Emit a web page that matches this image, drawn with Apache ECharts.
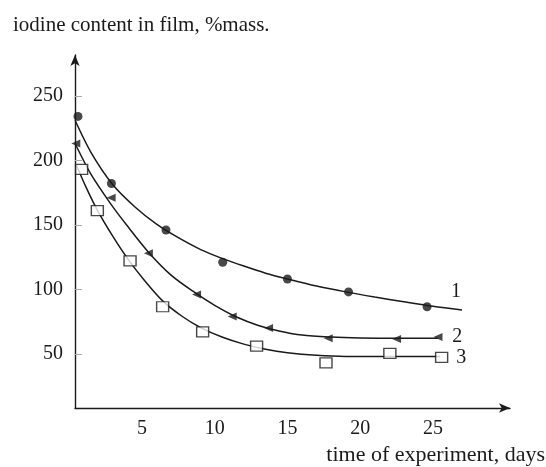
<!DOCTYPE html>
<html><head><meta charset="utf-8">
<script src="https://cdn.jsdelivr.net/npm/echarts@6/dist/echarts.min.js"></script>
<style>html,body{margin:0;padding:0;background:#fff}#c{width:546px;height:467px}</style>
</head><body><div id="c"></div>
<script>
// Tick labels
const yTicks = [50, 100, 150, 200, 250];
const xTicks = [5, 10, 15, 20, 25];
const curveNames = ['1', '2', '3'];

// Measured points [day, % mass]
const points1 = [[0.6,234],[2.9,182],[6.65,146],[10.55,121],[15,108],[19.2,98],[24.6,86.5]];
const points2 = [[0.45,213],[2.88,171],[5.44,128],[8.75,96],[11.2,79],[13.7,70],[17.8,62],[22.5,61.5],[25.35,63]];
const points3 = [[0.85,193],[1.93,161],[4.18,122],[6.42,86.5],[9.17,67],[12.88,56],[17.65,43],[22.04,50.4],[25.6,47.3]];

// Fitted curves
const fit1 = [[0.4,231],[1.5,206],[3,181],[4.5,164],[6,150.5],[7.5,140],[9,131],[10.5,124],[12,118],[13.5,112.5],[15,108],[17,102.5],[19,98],[21,94],[23,90.3],[25,86.8],[27,84]];
const fit2 = [[0.4,213],[1.5,189],[2.8,167],[4,149],[5.43,129],[7,111],[8.5,98.5],[10,87.5],[11.5,78.5],[13,72],[14.5,67.5],[16,64.5],[18,63],[20,62.3],[22.5,62],[25.36,62]];
const fit3 = [[0.5,196],[1.2,178],[1.9,162],[3,141],[4.06,123],[5.2,106.5],[6.42,91],[7.7,79.5],[9,70.5],[10.5,63],[12,57.5],[13.5,53.5],[15,50.8],[17,48.8],[19,48],[21,48],[23,48],[25.5,48]];

const serif = 'Liberation Serif';
const ink = '#1a1a1a';
const chart = echarts.init(document.getElementById('c'));

function fitSeries(data, name, offset) {
  return {
    type: 'line', data: data, smooth: 0.3, showSymbol: false, symbol: 'none',
    lineStyle: { color: ink, width: 1.5 }, silent: true, z: 2,
    endLabel: { show: true, formatter: name, offset: offset, color: ink,
      fontFamily: serif, fontSize: 20 }
  };
}

chart.setOption({
  animation: false,
  backgroundColor: '#fff',
  title: [
    { text: 'iodine content in film, %mass.', left: 8, top: 10,
      textStyle: { fontFamily: serif, fontSize: 21, fontWeight: 'normal', color: ink } },
    { text: 'time of experiment, days', right: -4, top: 439,
      textStyle: { fontFamily: serif, fontSize: 22, fontWeight: 'normal', color: ink } }
  ],
  grid: { left: 75, right: 36, top: 55, bottom: 59 },
  xAxis: {
    type: 'value', min: 0.395, max: 30.3,
    axisLine: { show: true, symbol: ['none', 'arrow'], symbolSize: [7, 11],
      lineStyle: { color: ink, width: 1.4 } },
    axisTick: { show: false },
    splitLine: { show: false },
    axisLabel: { customValues: xTicks, margin: 11, color: ink,
      fontFamily: serif, fontSize: 20 }
  },
  yAxis: {
    type: 'value', min: 8, max: 281.6,
    axisLine: { show: true, symbol: ['none', 'arrow'], symbolSize: [7, 11],
      lineStyle: { color: ink, width: 1.4 } },
    axisTick: { show: true, inside: true, length: 7, customValues: yTicks,
      lineStyle: { color: '#aaa', width: 1 } },
    splitLine: { show: false },
    axisLabel: { customValues: yTicks, margin: 12, color: ink,
      fontFamily: serif, fontSize: 20 }
  },
  series: [
    fitSeries(fit1, curveNames[0], [-19, -18]),
    fitSeries(fit2, curveNames[1], [6, -2]),
    fitSeries(fit3, curveNames[2], [8, 1]),
    { type: 'scatter', data: points1, symbol: 'circle', symbolSize: 9,
      itemStyle: { color: ink }, z: 3 },
    { type: 'scatter', data: points2, symbol: 'triangle', symbolSize: [8, 9], symbolRotate: 90,
      itemStyle: { color: ink }, z: 3 },
    { type: 'scatter', data: points3, symbol: 'rect', symbolSize: [12, 10],
      itemStyle: { color: '#fff', borderColor: ink, borderWidth: 1.3 }, z: 3 }
  ]
});
</script></body></html>
